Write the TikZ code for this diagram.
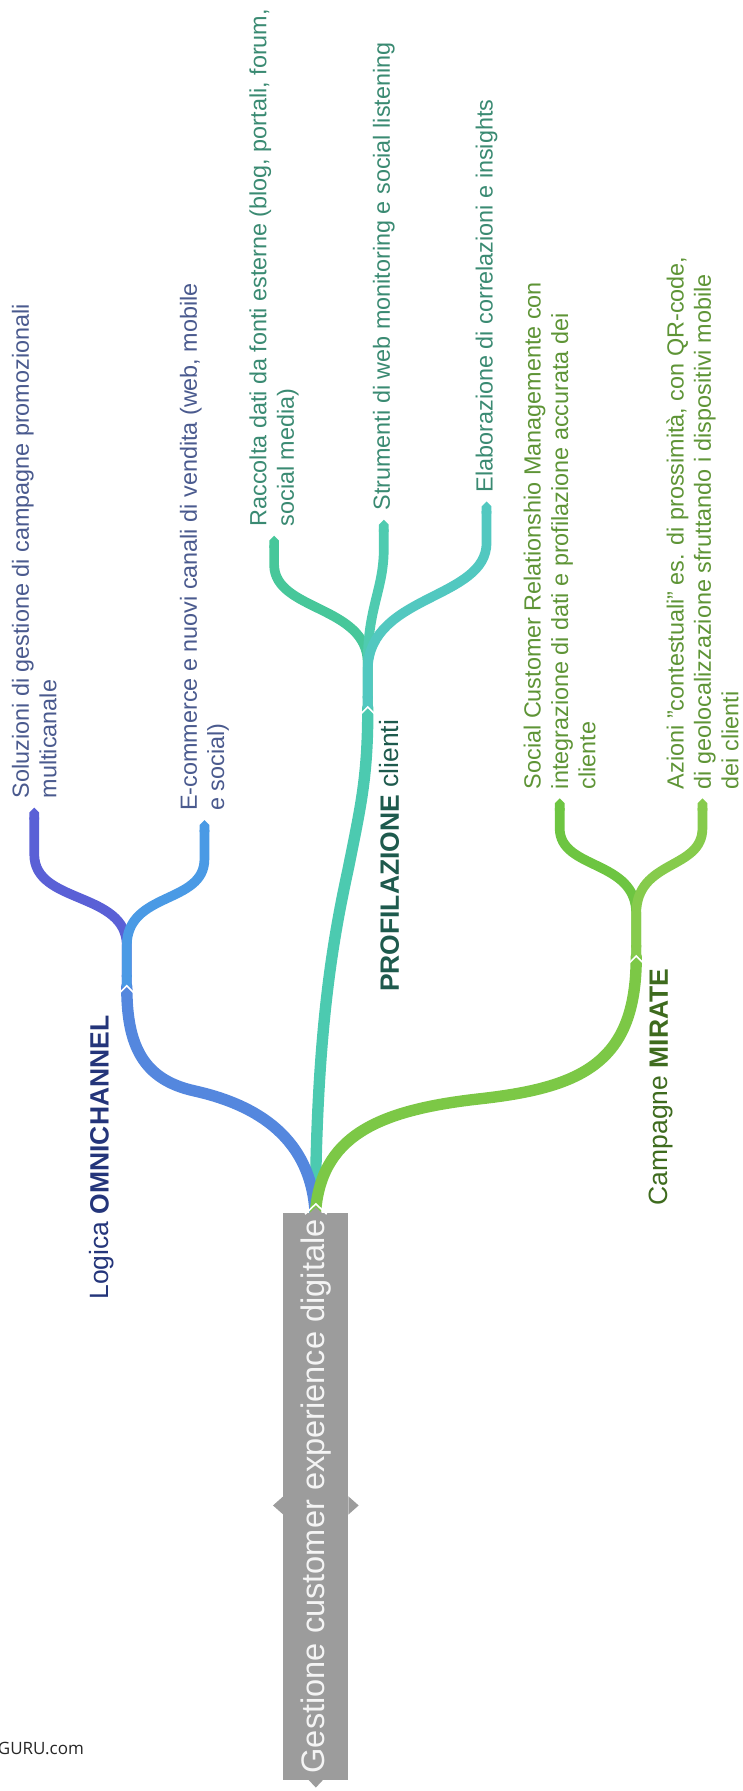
\documentclass[tikz,border=0pt]{standalone}
\usepackage{fontspec}
\setmainfont{Liberation Sans}
\newfontfamily\wmfont{Open Sans}
\usetikzlibrary{arrows.meta}
\definecolor{indigoBr}{HTML}{5A60D6}
\definecolor{blueStem}{HTML}{5487DE}
\definecolor{blueBr}{HTML}{4A9AE5}
\definecolor{tealStem}{HTML}{4CCAB0}
\definecolor{tealL}{HTML}{47C79A}
\definecolor{tealM}{HTML}{4FCBB0}
\definecolor{tealR}{HTML}{52C8C0}
\definecolor{greenStem}{HTML}{7CC846}
\definecolor{greenL}{HTML}{6DC541}
\definecolor{greenR}{HTML}{86CB4C}
\definecolor{omniText}{HTML}{4A5A8E}
\definecolor{omniLabel}{HTML}{24357A}
\definecolor{tealText}{HTML}{3A8A72}
\definecolor{tealLabel}{HTML}{1E5A4D}
\definecolor{greenText}{HTML}{5E9436}
\definecolor{greenLabel}{HTML}{3E6B1E}
\definecolor{rootFill}{HTML}{9C9C9C}
\definecolor{rootText}{HTML}{F4F4F4}
\begin{document}
\begin{tikzpicture}[x=1.1431pt,y=-1.1431pt,
  br/.style={line width=11.4pt, line cap=round},
  leafbr/.style={line width=9.7pt, {Butt Cap}-{Triangle Cap}},
  leaf/.style={rotate=90, anchor=west, align=left, inner sep=0pt, font=\fontsize{23.4}{27.4}\selectfont},
  lab/.style={rotate=90, anchor=east, inner sep=0pt, font=\fontsize{26.5}{30}\selectfont},
  notch/.style={draw=white, line width=1.6pt, line join=miter},
  rootbox/.style={rotate=90, fill=rootFill, text=rootText, minimum width=567pt, minimum height=65.2pt, inner sep=0pt, font=\fontsize{32.6}{36}\selectfont}
]
\useasboundingbox (0,0) rectangle (650,1568);

\coordinate (R) at (276,1064);
\coordinate (nO) at (111,864);
\coordinate (nP) at (322,620);
\coordinate (nM) at (557,838);
\coordinate (tSol) at (30,707);
\coordinate (tEco) at (179,718);
\coordinate (tRac) at (240,469);
\coordinate (tStr) at (336,455);
\coordinate (tEla) at (426,439);
\coordinate (tSoc) at (490,699);
\coordinate (tAz) at (615,699);

% main stems
\draw[br, tealStem] (R) .. controls (277,900) and (292,820) .. (305,760) .. controls (316,705) and (322,680) .. (nP);
\draw[br, blueStem] (R) .. controls (273,990) and (215,965) .. (170,955) .. controls (125,945) and (111,915) .. (nO);
\draw[br, greenStem] (R) .. controls (280,995) and (330,972) .. (420,962) .. controls (510,952) and (557,930) .. (nM);

% omnichannel children
\draw[leafbr, indigoBr] (nO) -- (111,828) .. controls (111,780) and (30,792) .. (30,748) -- (tSol);
\draw[leafbr, blueBr] (nO) -- (111,828) .. controls (111,780) and (179,792) .. (179,752) -- (tEco);
% profilazione children
\draw[leafbr, tealL] (nP) -- (322,580) .. controls (321,530) and (241,535) .. (240,495) -- (tRac);
\draw[leafbr, tealM] (nP) -- (322,575) .. controls (323,530) and (336,515) .. (336,480) -- (tStr);
\draw[leafbr, tealR] (nP) -- (322,585) .. controls (324,520) and (426,525) .. (426,475) -- (tEla);
% mirate children
\draw[leafbr, greenL] (nM) -- (557,800) .. controls (557,752) and (490,762) .. (490,725) -- (tSoc);
\draw[leafbr, greenR] (nM) -- (557,800) .. controls (557,752) and (615,762) .. (615,725) -- (tAz);

% notches
\draw[notch] (nO) ++(-6,5) -- ++(6,-6) -- ++(6,6);
\draw[notch] (nP) ++(-6,5) -- ++(6,-6) -- ++(6,6);
\draw[notch] (nM) ++(-6,5) -- ++(6,-6) -- ++(6,6);

% root
\node[rootbox] (root) at (276.5,1310) {Gestione customer experience digitale};
\fill[rootFill] (248,1310) -- (239,1318) -- (248,1326) -- cycle;
\fill[rootFill] (305,1310) -- (314,1318) -- (305,1326) -- cycle;
\fill[rootFill] (269,1557) -- (276.5,1565) -- (284,1557) -- cycle;
\draw[notch] (267,1063) -- (276.5,1054) -- (286,1063);
\fill[rootFill] (270,1063) -- (276.5,1057) -- (283,1063) -- cycle;

% leaf texts
\node[leaf, text=omniText] (sol) at (30,699) {Soluzioni di gestione di campagne promozionali\\multicanale};
\node[leaf, text=omniText] (eco) at (179,710) {E-commerce e nuovi canali di vendita (web, mobile\\e social)};
\node[leaf, text=tealText] (rac) at (240,461) {Raccolta dati da fonti esterne (blog, portali, forum,\\social media)};
\node[leaf, text=tealText] (str) at (336,447) {Strumenti di web monitoring e social listening};
\node[leaf, text=tealText] (ela) at (426,431) {Elaborazione di correlazioni e insights};
\node[leaf, text=greenText] (soc) at (490,691) {Social Customer Relationshio Managemente con\\integrazione di dati e profilazione accurata dei\\cliente};
\node[leaf, text=greenText] (az) at (615,691) {Azioni "contestuali" es. di prossimità, con QR-code,\\di geolocalizzazione sfruttando i dispositivi mobile\\dei clienti};

% labels
\node[lab, text=omniLabel] (omni) at (89,889) {Logica \textbf{OMNICHANNEL}};
\node[lab, text=tealLabel] (prof) at (341,630) {\textbf{PROFILAZIONE} clienti};
\node[lab, text=greenLabel] (mir) at (579,848) {Campagne \textbf{MIRATE}};

% watermark
\node[anchor=west, inner sep=0pt, text=black!85, font=\wmfont\fontsize{17}{20}\selectfont] (wm) at (-2,1531) {GURU.com};
\end{tikzpicture}
\end{document}
